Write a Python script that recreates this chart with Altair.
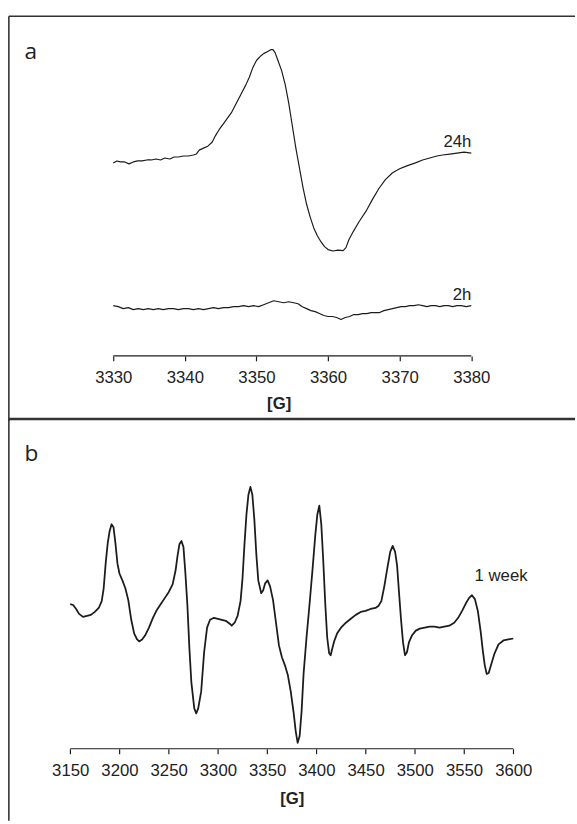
import altair as alt
import pandas as pd

# ---------------- data ----------------
# Panel a, 24h trace: magnetic field [G] and signal (arbitrary units, offset included)
A24_FIELD = [3330.0, 3330.5, 3331.0, 3331.6, 3332.2, 3332.8, 3333.4, 3334.0, 3334.7, 3335.3,
             3336.0, 3336.6, 3337.2, 3337.9, 3338.5, 3339.1, 3339.8, 3340.5, 3341.2, 3341.6,
             3342.0, 3342.6, 3343.2, 3343.8, 3344.3, 3344.8, 3345.4, 3346.0, 3346.5, 3347.0,
             3347.5, 3348.0, 3348.5, 3349.0, 3349.5, 3350.0, 3350.5, 3351.0, 3351.5, 3352.0,
             3352.3, 3352.6, 3353.0, 3353.5, 3354.0, 3354.5, 3355.0, 3355.5, 3356.0, 3356.5,
             3357.0, 3357.5, 3358.0, 3358.5, 3359.0, 3359.5, 3360.0, 3360.7, 3361.4, 3362.1,
             3362.5, 3362.9, 3363.5, 3364.3, 3365.3, 3366.2, 3367.1, 3368.0, 3369.0, 3370.0,
             3371.0, 3372.2, 3373.2, 3374.2, 3375.2, 3376.0, 3377.0, 3378.0, 3379.0, 3379.5,
             3380.0]
A24_SIGNAL = [260, 262, 261, 261, 259, 261, 262, 262, 263, 263,
              264, 263, 265, 264, 266, 266, 267, 267, 268, 269,
              273, 275, 277, 281, 288, 294, 300, 306, 311, 318,
              325, 332, 339, 347, 357, 364, 368, 371, 373, 375,
              375, 372, 364, 354, 340, 321, 298, 275, 255, 235,
              218, 205, 194, 186, 180, 175, 172, 170.5, 171.5, 171,
              174, 182, 190, 200, 211, 223, 234, 243, 250, 254,
              257, 260, 263, 265, 267, 268, 269, 270, 271, 270.5,
              270]

# Panel a, 2h trace
A2_FIELD = [3330.0, 3330.7, 3331.4, 3332.1, 3332.8, 3333.5, 3334.2, 3334.9, 3335.6, 3336.3,
            3337.0, 3337.7, 3338.4, 3339.1, 3339.8, 3340.5, 3341.2, 3341.9, 3342.6, 3343.3,
            3344.0, 3344.7, 3345.4, 3346.1, 3346.8, 3347.5, 3348.2, 3348.9, 3349.6, 3350.3,
            3351.0, 3351.7, 3352.4, 3353.1, 3353.8, 3354.5, 3355.2, 3355.8, 3356.4, 3357.0,
            3357.6, 3358.2, 3358.8, 3359.4, 3360.0, 3360.6, 3361.2, 3361.8, 3362.4, 3363.0,
            3363.6, 3364.2, 3364.8, 3365.4, 3366.0, 3366.6, 3367.2, 3367.8, 3368.4, 3369.0,
            3369.6, 3370.2, 3370.8, 3371.4, 3372.0, 3372.6, 3373.2, 3373.8, 3374.4, 3375.0,
            3375.6, 3376.2, 3376.8, 3377.4, 3378.0, 3378.6, 3379.3, 3380.0]
A2_SIGNAL = [115, 114, 112, 113, 111, 112, 111, 112, 111, 112,
             111, 112, 112, 111, 112, 112, 111, 112, 111, 112,
             113, 112, 113, 113, 114, 114, 115, 114, 115, 114,
             116, 118, 120, 119, 118, 119, 118, 117, 114, 112,
             110, 109, 107, 105, 104, 104, 103, 101, 103, 104,
             106, 106, 107, 107, 108, 108, 108, 110, 111, 112,
             113, 114, 114, 115, 115, 116, 115, 114, 115, 115,
             114, 115, 115, 114, 115, 115, 114, 115]

# Panel b, 1 week trace
B_FIELD = [3150, 3153, 3156, 3159, 3163, 3167, 3171, 3175, 3179, 3182,
           3184, 3186, 3188, 3190, 3192, 3194, 3196, 3198, 3200, 3203,
           3206, 3209, 3212, 3215, 3218, 3220, 3223, 3226, 3230, 3234,
           3238, 3242, 3246, 3250, 3254, 3257, 3259, 3261, 3263, 3265,
           3267, 3269, 3271, 3273, 3276, 3278, 3280, 3283, 3286, 3289,
           3292, 3296, 3300, 3304, 3308, 3312, 3314, 3317, 3320, 3323,
           3325, 3327, 3329, 3331, 3333, 3335, 3337, 3339, 3341, 3344,
           3346, 3348, 3350.5, 3353, 3356, 3359, 3362, 3365, 3368, 3371,
           3374, 3377, 3379, 3381, 3383, 3385, 3387, 3390, 3393, 3396,
           3399, 3401, 3403, 3405, 3407, 3409, 3411, 3413, 3414.5, 3416,
           3418, 3421, 3425, 3430, 3435, 3440, 3445, 3450, 3455, 3460,
           3463, 3466, 3469, 3472, 3475, 3477.5, 3480, 3482, 3484, 3486,
           3488, 3490, 3492, 3494, 3497, 3501, 3505, 3510, 3515, 3520,
           3525, 3530, 3535, 3540, 3544, 3548, 3552, 3555, 3558, 3561,
           3564, 3567, 3569, 3571, 3573, 3575, 3578, 3581, 3585, 3590,
           3595, 3600]
B_SIGNAL = [218, 217, 213, 208, 205, 206, 207, 210, 214, 221,
            234, 259, 279, 292, 299, 296, 279, 259, 249, 242,
            234, 222, 202, 188, 182, 180, 182, 186, 194, 204,
            212, 218, 224, 230, 238, 252, 267, 279, 282, 276,
            249, 217, 174, 139, 112, 107, 112, 129, 169, 194,
            202, 204, 203, 202, 201, 198, 196, 199, 206, 221,
            244, 279, 309, 329, 337, 329, 304, 269, 242, 229,
            232, 239, 242, 236, 222, 199, 176, 164, 156, 146,
            129, 107, 89, 77, 84, 109, 147, 184, 217, 252,
            289, 309, 318, 299, 262, 219, 184, 168, 166, 172,
            180, 188, 194, 199, 203, 207, 210, 211, 213, 214,
            216, 221, 236, 254, 271, 277, 271, 257, 229, 202,
            179, 166, 169, 179, 186, 191, 193, 194, 195, 195,
            194, 195, 196, 199, 204, 211, 219, 224, 227, 223,
            211, 189, 171, 156, 147, 148, 158, 168, 177, 181,
            182, 183]

A_TICKS = [3330, 3340, 3350, 3360, 3370, 3380]
B_TICKS = [3150, 3200, 3250, 3300, 3350, 3400, 3450, 3500, 3550, 3600]

A_LABELS = ["24h", "2h"]
A_LABEL_FIELD = [3380, 3380]
A_LABEL_SIGNAL = [276, 121]
B_LABELS = ["1 week"]
B_LABEL_FIELD = [3560.7]
B_LABEL_SIGNAL = [241]

# ---------------- styling ----------------
FONT = "Liberation Sans"
INK = "#1c1c1c"
TXT = "#222222"
BORDER = "#333333"


def make_panel(line_df, label_df, ticks, xdom, ydom, w, h, axis_off,
               title_x, title_y, letter, line_w, top_w, label_align):
    xscale = alt.Scale(domain=xdom, nice=False, zero=False)
    yscale = alt.Scale(domain=ydom, nice=False, zero=False)
    xaxis = alt.Axis(values=ticks, offset=axis_off, domain=False, grid=False,
                     ticks=True, tickSize=5, tickWidth=1.2, tickColor=INK,
                     labelFont=FONT, labelFontSize=17, labelColor=TXT,
                     labelPadding=9, labelFlush=False, labelOverlap=False,
                     format="d", title="[G]", titleFont=FONT, titleFontSize=17,
                     titleFontWeight="bold", titleColor=TXT, titleX=title_x,
                     titleY=title_y, titleBaseline="middle", titleAlign="center")
    X = alt.X("field:Q", scale=xscale, axis=xaxis)
    Y = alt.Y("signal:Q", scale=yscale, axis=None)

    lines = alt.Chart(line_df).mark_line(color=INK, strokeWidth=line_w,
                                         strokeJoin="round").encode(
        x=X, y=Y, detail="trace:N", order="idx:Q")

    axis_df = pd.DataFrame({"field": [ticks[0]], "field2": [ticks[-1]]})
    axis_line = alt.Chart(axis_df).mark_rule(color=INK, strokeWidth=1.2).encode(
        x=X, x2="field2:Q", y=alt.value(h + axis_off))

    labels = alt.Chart(label_df).mark_text(
        align=label_align, baseline="alphabetic", font=FONT, fontSize=17,
        color=TXT).encode(x=X, y=Y, text="label:N")

    letter_df = pd.DataFrame({"panel": [letter]})
    letter_mark = alt.Chart(letter_df).mark_text(
        align="left", baseline="alphabetic", font="Open Sans", fontSize=23,
        color=TXT).encode(x=alt.value(16), y=alt.value(43), text="panel:N")

    top_rule = alt.Chart(letter_df).mark_rule(color=BORDER, strokeWidth=top_w).encode(
        x=alt.value(0), x2=alt.value(w + 5), y=alt.value(0))
    left_rule = alt.Chart(letter_df).mark_rule(color=BORDER, strokeWidth=1.6).encode(
        x=alt.value(0), y=alt.value(0), y2=alt.value(h + 2))

    return alt.layer(lines, axis_line, labels, letter_mark, top_rule, left_rule).properties(
        width=w, height=h)


a_df = pd.concat([
    pd.DataFrame({"field": A24_FIELD, "signal": A24_SIGNAL, "trace": "24h",
                  "idx": range(len(A24_FIELD))}),
    pd.DataFrame({"field": A2_FIELD, "signal": A2_SIGNAL, "trace": "2h",
                  "idx": range(len(A2_FIELD))}),
], ignore_index=True)
a_lab = pd.DataFrame({"label": A_LABELS, "field": A_LABEL_FIELD, "signal": A_LABEL_SIGNAL})

b_df = pd.DataFrame({"field": B_FIELD, "signal": B_SIGNAL, "trace": "1 week",
                     "idx": range(len(B_FIELD))})
b_lab = pd.DataFrame({"label": B_LABELS, "field": B_LABEL_FIELD, "signal": B_LABEL_SIGNAL})

panel_a = make_panel(a_df, a_lab, A_TICKS, [3315.42, 3393.80], [0, 409], 570, 409,
                     -64, 274, 48, "a", 1.2, 1.6, "right")
panel_b = make_panel(b_df, b_lab, B_TICKS, [3087.7, 3657.7], [0, 406], 570, 406,
                     -71, 287.3, 50.5, "b", 1.8, 2.6, "left")

chart = alt.vconcat(panel_a, panel_b, spacing=0, bounds="flush").properties(
    padding={"left": 7, "top": 9, "right": 0, "bottom": 0},
    background="white",
).configure_view(stroke=None)

chart.save("out.html", embed_options={"renderer": "svg", "actions": False})
